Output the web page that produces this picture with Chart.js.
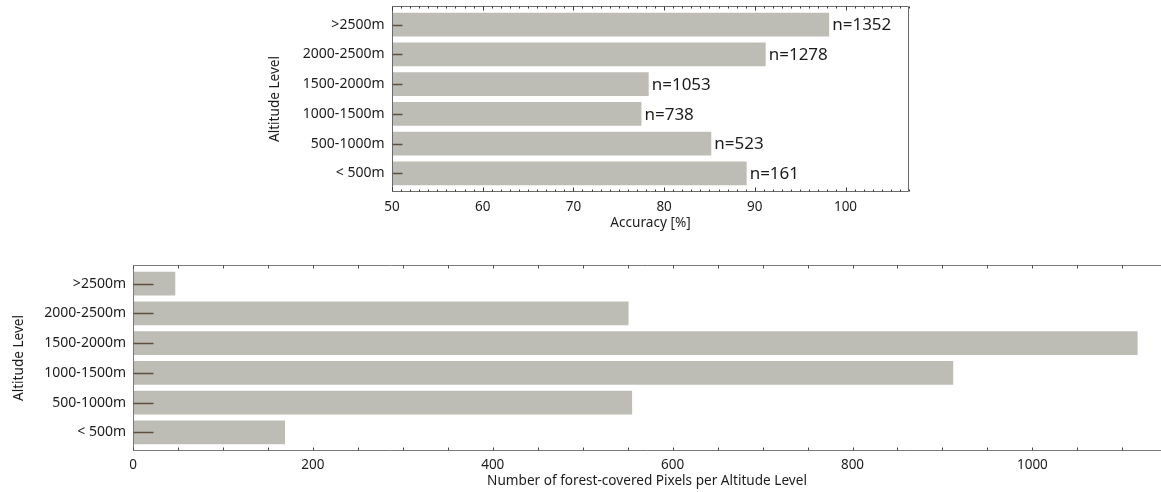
<!DOCTYPE html>
<html>
<head>
<meta charset="utf-8">
<script src="https://cdn.jsdelivr.net/npm/chart.js@4/dist/chart.umd.min.js"></script>
<style>
  html, body { margin: 0; padding: 0; background: #fff; overflow: hidden; }
  #wrap { position: relative; width: 1161px; height: 492px; }
  canvas { position: absolute; left: 0; }
  #acc { top: 0; }
  #pix { top: 240px; }
</style>
</head>
<body>
<div id="wrap">
  <canvas id="acc" width="1161" height="240"></canvas>
  <canvas id="pix" width="1161" height="252"></canvas>
</div>
<script>
// Altitude classes, listed top to bottom
const altitudeLevels = ['>2500m', '2000-2500m', '1500-2000m', '1000-1500m', '500-1000m', '< 500m'];
// Classification accuracy per altitude class [%]
const accuracyPct = [98.2, 91.2, 78.3, 77.5, 85.2, 89.1];
// Number of reference samples per altitude class
const sampleCounts = [1352, 1278, 1053, 738, 523, 161];
// Forest-covered pixels per altitude class
const forestPixels = [47, 551, 1117, 912, 555, 169];
// Labelled tick values
const accuracyTicks = [50, 60, 70, 80, 90, 100];
const pixelTicks = [0, 200, 400, 600, 800, 1000];

const FONT = "'Noto Sans', 'DejaVu Sans', sans-serif";
const TEXT = '#1c1c1c';
const BAR = '#bebdb5';

Chart.defaults.font.family = FONT;
Chart.defaults.color = TEXT;

// Box frame, inward tick marks and optional "n=" annotations
const framePlugin = {
  id: 'frame',
  afterDatasetsDraw(chart, args, o) {
    const { ctx, chartArea: a, scales: { x, y } } = chart;
    const L = Math.round(a.left) + 0.5, R = Math.round(a.right) - 0.5;
    const T = Math.round(a.top) + 0.5, B = Math.round(a.bottom) - 0.5;
    ctx.save();
    ctx.lineWidth = 1;
    ctx.strokeStyle = o.frameColor;
    ctx.beginPath();
    ctx.moveTo(L, T); ctx.lineTo(o.rightEdge ? R : chart.width, T);
    ctx.moveTo(L, T); ctx.lineTo(L, B);
    ctx.moveTo(L, B); ctx.lineTo(o.rightEdge ? R : chart.width, B);
    if (o.rightEdge) { ctx.moveTo(R, T); ctx.lineTo(R, B); }
    ctx.stroke();

    // value-axis ticks on the top and bottom edges
    ctx.strokeStyle = o.tickColor;
    ctx.beginPath();
    for (let v = x.min; v <= x.max + 1e-9; v += o.minorStep) {
      const px = Math.round(x.getPixelForValue(v)) + 0.5;
      const isMajor = Math.abs(v % o.majorStep) < 1e-6;
      const len = isMajor ? o.majorLen : o.minorLen;
      ctx.moveTo(px, T); ctx.lineTo(px, T + len);
      ctx.moveTo(px, B); ctx.lineTo(px, B - len);
    }
    ctx.stroke();

    // category ticks from the left edge
    ctx.strokeStyle = o.catTickColor;
    ctx.lineWidth = 1.5;
    ctx.beginPath();
    y.ticks.forEach(t => {
      const py = Math.round(y.getPixelForValue(t.value)) + 0.5;
      ctx.moveTo(L, py); ctx.lineTo(L + o.catTickLen, py);
    });
    ctx.stroke();

    // sample-size labels at the bar ends
    if (o.counts) {
      ctx.fillStyle = TEXT;
      ctx.font = '17px ' + FONT;
      ctx.textAlign = 'left';
      ctx.textBaseline = 'middle';
      chart.getDatasetMeta(0).data.forEach((bar, i) => {
        ctx.fillText('n=' + o.counts[i], bar.x + 3, bar.y + 1);
      });
    }
    ctx.restore();
  }
};

function categoryAxis(width, titlePad, tickPad) {
  return {
    type: 'linear',
    reverse: true,
    min: -0.625,
    max: 5.625,
    bounds: 'data',
    offset: false,
    grid: { display: false, drawTicks: false, offset: false },
    border: { display: false },
    afterBuildTicks: s => { s.ticks = altitudeLevels.map((_, i) => ({ value: i })); },
    afterFit: s => { s.width = width; s.paddingTop = 0; s.paddingBottom = 0; },
    ticks: {
      autoSkip: false,
      padding: tickPad,
      font: { size: 14 },
      callback: v => altitudeLevels[v]
    },
    title: {
      display: true,
      text: 'Altitude Level',
      font: { size: 13.6 },
      padding: { top: titlePad, bottom: 0 }
    }
  };
}

function valueAxis(min, max, ticks, height, title, titlePad, tickPad) {
  return {
    type: 'linear',
    min: min,
    max: max,
    bounds: 'data',
    grid: { display: false, drawTicks: false },
    border: { display: false },
    afterBuildTicks: s => { s.ticks = ticks.map(v => ({ value: v })); },
    afterFit: s => { s.height = height; s.paddingLeft = 0; s.paddingRight = 0; },
    ticks: { padding: tickPad, font: { size: 13.5 }, autoSkip: false, callback: v => String(v) },
    title: {
      display: true,
      text: title,
      font: { size: 13.6 },
      padding: { top: 0, bottom: titlePad }
    }
  };
}

function barData(values) {
  return {
    datasets: [{
      data: values.map((v, i) => ({ x: v, y: i })),
      backgroundColor: BAR,
      borderWidth: 0,
      barPercentage: 0.8,
      categoryPercentage: 1.0
    }]
  };
}

// Accuracy per altitude level
new Chart(document.getElementById('acc'), {
  type: 'bar',
  data: barData(accuracyPct),
  plugins: [framePlugin],
  options: {
    indexAxis: 'y',
    responsive: false,
    animation: false,
    layout: { padding: { left: 265, right: 252, top: 6, bottom: 0 } },
    scales: {
      y: categoryAxis(127, 2, 7.5),
      x: valueAxis(50, 107, accuracyTicks, 48, 'Accuracy [%]', 9, 7.2)
    },
    plugins: {
      legend: { display: false },
      tooltip: { enabled: false },
      frame: {
        frameColor: '#6a6a6a', tickColor: '#3a3a3a', catTickColor: '#5e5040',
        rightEdge: true, minorStep: 1, majorStep: 10, minorLen: 2, majorLen: 4,
        catTickLen: 10, counts: sampleCounts
      }
    }
  }
});

// Forest-covered pixels per altitude level
new Chart(document.getElementById('pix'), {
  type: 'bar',
  data: barData(forestPixels),
  plugins: [framePlugin],
  options: {
    indexAxis: 'y',
    responsive: false,
    animation: false,
    layout: { padding: { left: 0, right: 0, top: 25, bottom: 0 } },
    scales: {
      y: categoryAxis(133, 10.5, 7),
      x: valueAxis(0, 1143, pixelTicks, 41, 'Number of forest-covered Pixels per Altitude Level', 2.5, 6.2)
    },
    plugins: {
      legend: { display: false },
      tooltip: { enabled: false },
      frame: {
        frameColor: '#7a7a7a', tickColor: '#4a4a4a', catTickColor: '#5e5040',
        rightEdge: false, minorStep: 50, majorStep: 50, minorLen: 3, majorLen: 3,
        catTickLen: 20, counts: null
      }
    }
  }
});
</script>
</body>
</html>
